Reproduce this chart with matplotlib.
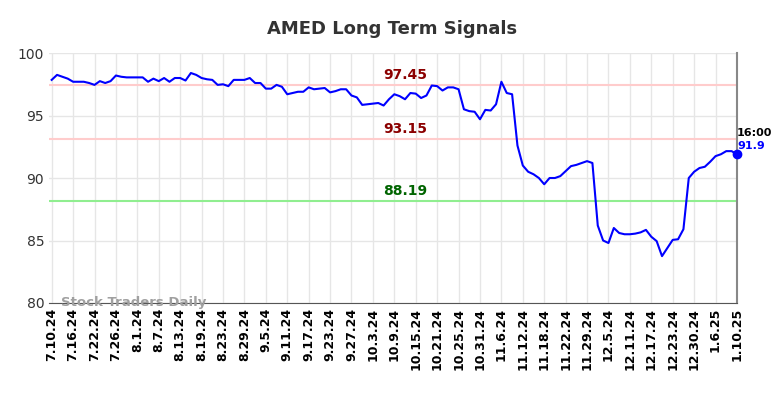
import matplotlib.pyplot as plt

# tick labels (every 4th trading day)
tick_labels = ['7.10.24', '7.16.24', '7.22.24', '7.26.24', '8.1.24', '8.7.24', '8.13.24',
               '8.19.24', '8.23.24', '8.29.24', '9.5.24', '9.11.24', '9.17.24', '9.23.24',
               '9.27.24', '10.3.24', '10.9.24', '10.15.24', '10.21.24', '10.25.24',
               '10.31.24', '11.6.24', '11.12.24', '11.18.24', '11.22.24', '11.29.24',
               '12.5.24', '12.11.24', '12.17.24', '12.23.24', '12.30.24', '1.6.25', '1.10.25']

# daily closing prices
prices = [97.85, 98.25, 98.1, 97.95, 97.7, 97.7, 97.7, 97.6, 97.45, 97.75,
          97.6, 97.75, 98.2, 98.1, 98.05, 98.05, 98.05, 98.05, 97.7, 97.95,
          97.75, 98.0, 97.7, 98.0, 98.0, 97.8, 98.4, 98.25, 98.0, 97.9,
          97.85, 97.45, 97.5, 97.35, 97.85, 97.85, 97.85, 98.0, 97.6, 97.6,
          97.15, 97.15, 97.45, 97.3, 96.7, 96.8, 96.9, 96.9, 97.25, 97.1,
          97.15, 97.2, 96.85, 96.95, 97.1, 97.1, 96.6, 96.45, 95.85, 95.9,
          95.95, 96.0, 95.8, 96.3, 96.7, 96.55, 96.3, 96.8, 96.75, 96.4,
          96.6, 97.4, 97.35, 97.0, 97.25, 97.25, 97.1, 95.5, 95.35, 95.3,
          94.7, 95.45, 95.4, 95.9, 97.7, 96.8, 96.7, 92.6, 91.0, 90.5,
          90.3, 90.0, 89.5, 90.0, 90.0, 90.15, 90.55, 90.95, 91.05, 91.2,
          91.35, 91.2, 86.2, 85.0, 84.8, 86.0, 85.6, 85.5, 85.5, 85.55,
          85.65, 85.85, 85.3, 84.95, 83.75, 84.4, 85.05, 85.1, 85.9, 90.0,
          90.5, 90.8, 90.9, 91.3, 91.75, 91.9, 92.15, 92.15, 91.9]

signal_levels = [97.45, 93.15, 88.19]
signal_names = ['97.45', '93.15', '88.19']
line_colors = ['#ffcccc', '#ffcccc', '#90ee90']
text_colors = ['#8b0000', '#8b0000', '#006400']

x = list(range(len(prices)))

fig = plt.figure(figsize=(7.84, 3.98), dpi=100)
ax = fig.add_axes([0.0625, 0.2387, 0.8775, 0.6281])

for lvl, name, lc, tc in zip(signal_levels, signal_names, line_colors, text_colors):
    ax.axhline(lvl, color=lc, linewidth=1.5, zorder=1)
    ax.text(66, lvl + 0.2, name, color=tc, fontsize=10, fontweight='bold',
            ha='center', va='bottom')

ax.plot(x, prices, color='blue', linewidth=1.5, zorder=3)
ax.plot(x[-1], prices[-1], 'o', color='blue', markersize=6, zorder=4, clip_on=False)

ax.text(x[-1], prices[-1] + 1.3, '16:00', fontsize=8, fontweight='bold',
        color='black', ha='left', va='bottom')
ax.text(x[-1], prices[-1] + 0.25, str(prices[-1]), fontsize=8, fontweight='bold',
        color='blue', ha='left', va='bottom')

ax.text(0.018, 0.003, 'Stock Traders Daily', transform=ax.transAxes, fontsize=9.5,
        fontweight='bold', color='#a0a0a0', ha='left', va='center')

ax.set_xlim(-0.5, len(prices) - 1)
ax.set_ylim(80, 100)
ax.set_yticks([80, 85, 90, 95, 100])
ax.set_xticks(x[::4])
ax.set_xticklabels(tick_labels, rotation=90, fontweight='bold', fontsize=9)
ax.tick_params(axis='both', length=0, labelsize=9)
ax.tick_params(axis='y', labelsize=10, colors='#333333')

ax.grid(True, color='#e6e6e6', linewidth=1)
ax.set_axisbelow(True)
for s in ['top', 'left']:
    ax.spines[s].set_visible(False)
ax.spines['bottom'].set_color('#555555')
ax.spines['right'].set_color('#888888')
ax.spines['right'].set_linewidth(1.5)

fig.suptitle('AMED Long Term Signals', fontsize=13, fontweight='bold', color='#333333', y=0.95)

fig.savefig('out.png', dpi=100)
